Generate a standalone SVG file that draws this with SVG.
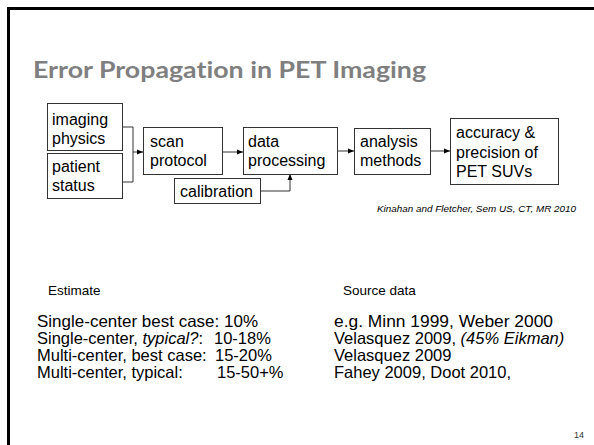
<svg xmlns="http://www.w3.org/2000/svg" width="594" height="445" viewBox="0 0 594 445">
<style>
.box{fill:#fff;stroke:#333;stroke-width:1}
.bt{font-family:"Liberation Sans",Arial,sans-serif;font-size:16px;fill:#000}
.con{fill:none;stroke:#333;stroke-width:1}
.tx{font-family:"Liberation Sans",Arial,sans-serif;font-size:16.5px;fill:#000}
.sm{font-family:"Liberation Sans",Arial,sans-serif;font-size:13.5px;fill:#000}
#title{font-variant-ligatures:none;font-feature-settings:"liga" 0}
</style>
<defs>
<marker id="ah" viewBox="0 0 6 6" refX="6" refY="3" markerWidth="6" markerHeight="6" orient="auto" markerUnits="userSpaceOnUse">
<path d="M0,0.5 L6,3 L0,5.5 Z" fill="#000"/>
</marker>
</defs>
<rect x="0" y="0" width="594" height="445" fill="#fff"/>
<rect id="frame" x="8.5" y="8.5" width="600" height="460" fill="none" stroke="#000" stroke-width="3"/>
<text id="title" x="33" y="78" font-family="Lato,'Open Sans',sans-serif" font-weight="bold" font-size="22" fill="#7f7f7f" textLength="393" lengthAdjust="spacingAndGlyphs">Error Propagation in PET Imaging</text>

<g id="connectors">
<path class="con" d="M122,127 H133 V182 H122"/>
<path class="con" d="M133,152 H143" marker-end="url(#ah)"/>
<path class="con" d="M222,152 H243" marker-end="url(#ah)"/>
<path class="con" d="M260,191 H290 V174" marker-end="url(#ah)"/>
<path class="con" d="M337,151 H354" marker-end="url(#ah)"/>
<path class="con" d="M430,151 H450" marker-end="url(#ah)"/>
</g>

<g id="imaging-physics">
<rect class="box" x="47.5" y="103.5" width="75" height="47"/>
<text class="bt" x="52" y="125">imaging</text>
<text class="bt" x="52" y="144">physics</text>
</g>
<g id="patient-status">
<rect class="box" x="47.5" y="153.5" width="75" height="45"/>
<text class="bt" x="52" y="172">patient</text>
<text class="bt" x="52" y="191">status</text>
</g>
<g id="scan-protocol">
<rect class="box" x="143.5" y="127.5" width="79" height="47"/>
<text class="bt" x="150" y="147">scan</text>
<text class="bt" x="150" y="166">protocol</text>
</g>
<g id="data-processing">
<rect class="box" x="243.5" y="127.5" width="94" height="47"/>
<text class="bt" x="248" y="147">data</text>
<text class="bt" x="248" y="166">processing</text>
</g>
<g id="calibration">
<rect class="box" x="174.5" y="178.5" width="86" height="25"/>
<text class="bt" x="180" y="197">calibration</text>
</g>
<g id="analysis-methods">
<rect class="box" x="354.5" y="128.5" width="76" height="46"/>
<text class="bt" x="360" y="147">analysis</text>
<text class="bt" x="360" y="166">methods</text>
</g>
<g id="accuracy">
<rect class="box" x="450.5" y="118.5" width="108" height="66"/>
<text class="bt" x="456" y="138">accuracy &amp;</text>
<text class="bt" x="456" y="158">precision of</text>
<text class="bt" x="456" y="177">PET SUVs</text>
</g>

<text x="377" y="212" font-family="'Liberation Sans',Arial,sans-serif" font-style="italic" font-size="9" fill="#000" textLength="199" lengthAdjust="spacingAndGlyphs">Kinahan and Fletcher, Sem US, CT, MR 2010</text>

<text class="sm" x="48" y="295">Estimate</text>
<text class="tx" x="37" y="327" textLength="221" lengthAdjust="spacingAndGlyphs">Single-center best case: 10%</text>
<text class="tx" x="37" y="344">Single-center, <tspan font-style="italic">typical?</tspan>:</text>
<text class="tx" x="214" y="344">10-18%</text>
<text class="tx" x="37" y="361">Multi-center, best case:</text>
<text class="tx" x="215" y="361">15-20%</text>
<text class="tx" x="37" y="378">Multi-center, typical:</text>
<text class="tx" x="217" y="378">15-50+%</text>

<text class="sm" x="343" y="295">Source data</text>
<text class="tx" x="334" y="327" textLength="219" lengthAdjust="spacingAndGlyphs">e.g. Minn 1999, Weber 2000</text>
<text class="tx" x="334" y="344">Velasquez 2009, <tspan font-style="italic">(45% Eikman)</tspan></text>
<text class="tx" x="334" y="361">Velasquez 2009</text>
<text class="tx" x="334" y="378">Fahey 2009, Doot 2010,</text>

<text x="574" y="438" font-family="'Liberation Sans',Arial,sans-serif" font-size="9" fill="#333">14</text>
</svg>
